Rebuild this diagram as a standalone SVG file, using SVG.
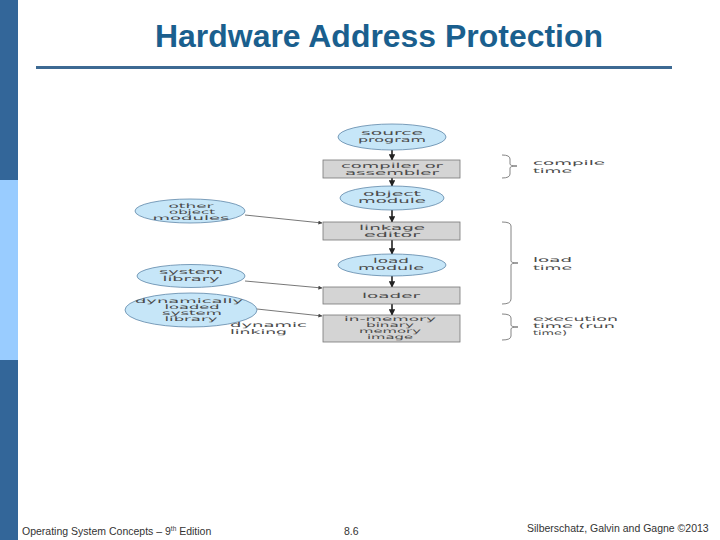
<svg xmlns="http://www.w3.org/2000/svg" width="720" height="540" viewBox="0 0 720 540">
<style>
.t{font-family:"DejaVu Sans",sans-serif;font-size:7px;fill:#4a4a4a;text-anchor:middle}
.q{font-size:6.3px}
.s{font-family:"DejaVu Sans",sans-serif;font-size:6.5px;fill:#4a4a4a}
.ell{fill:#c6e6f8;stroke:#5e86a8;stroke-width:0.8}
.box{fill:#d4d4d4;stroke:#777;stroke-width:0.8}
.arr{stroke:#222;stroke-width:1.6;fill:none;marker-end:url(#ah)}
.arl{stroke:#555;stroke-width:0.8;fill:none;marker-end:url(#ahs)}
.br{stroke:#777;stroke-width:0.9;fill:none}
.f{font-family:"Liberation Sans",Arial,sans-serif;font-size:10.5px;fill:#333}
</style>
<defs>
<marker id="ah" viewBox="0 0 10 10" refX="9" refY="5" markerWidth="4" markerHeight="4" orient="auto" markerUnits="strokeWidth"><path d="M0,0 L10,5 L0,10 z" fill="#222"/></marker>
<marker id="ahs" viewBox="0 0 10 10" refX="9" refY="5" markerWidth="6" markerHeight="5" orient="auto" markerUnits="strokeWidth"><path d="M0,0 L10,5 L0,10 z" fill="#444"/></marker>
</defs>
<rect x="0" y="0" width="720" height="540" fill="#fff"/>
<g id="sidebar">
<rect x="0" y="0" width="18" height="180" fill="#336699"/>
<rect x="0" y="180" width="18" height="180" fill="#99ccff"/>
<rect x="0" y="360" width="18" height="180" fill="#336699"/>
</g>
<g id="title">
<text x="379" y="47" font-family="Liberation Sans, Arial, sans-serif" font-size="31" font-weight="bold" fill="#1a5f8e" text-anchor="middle" textLength="448" lengthAdjust="spacingAndGlyphs">Hardware Address Protection</text>
<rect x="36" y="66" width="636" height="3" fill="#3d6a93"/>
</g>
<g id="connectors">
<path class="arr" d="M392,150 V160"/>
<path class="arr" d="M392,178 V186"/>
<path class="arr" d="M392,210 V222"/>
<path class="arr" d="M392,240 V254"/>
<path class="arr" d="M392,276 V287"/>
<path class="arr" d="M392,304 V315"/>
<path class="arl" d="M245,215 L322,223"/>
<path class="arl" d="M245,281 L322,288"/>
<path class="arl" d="M257,309 L322,316"/>
</g>
<g id="source-program"><ellipse class="ell" cx="392" cy="137" rx="54" ry="13"/>
<text class="t" x="392" y="135" textLength="62" lengthAdjust="spacingAndGlyphs">source</text>
<text class="t" x="392" y="142" textLength="68" lengthAdjust="spacingAndGlyphs">program</text></g>
<g id="compiler"><rect class="box" x="323" y="160" width="137" height="18"/>
<text class="t" x="392" y="168" textLength="102" lengthAdjust="spacingAndGlyphs">compiler or</text>
<text class="t" x="392" y="175" textLength="94" lengthAdjust="spacingAndGlyphs">assembler</text></g>
<g id="object-module"><ellipse class="ell" cx="392" cy="198" rx="52" ry="12"/>
<text class="t" x="392" y="196" textLength="58" lengthAdjust="spacingAndGlyphs">object</text>
<text class="t" x="392" y="203" textLength="68" lengthAdjust="spacingAndGlyphs">module</text></g>
<g id="linkage-editor"><rect class="box" x="323" y="222" width="137" height="18"/>
<text class="t" x="392" y="230" textLength="66" lengthAdjust="spacingAndGlyphs">linkage</text>
<text class="t" x="392" y="237" textLength="56" lengthAdjust="spacingAndGlyphs">editor</text></g>
<g id="load-module"><ellipse class="ell" cx="392" cy="265" rx="54" ry="11"/>
<text class="t" x="391" y="263" textLength="36" lengthAdjust="spacingAndGlyphs">load</text>
<text class="t" x="391" y="270" textLength="66" lengthAdjust="spacingAndGlyphs">module</text></g>
<g id="loader"><rect class="box" x="323" y="287" width="137" height="17"/>
<text class="t" x="391" y="298" textLength="58" lengthAdjust="spacingAndGlyphs">loader</text></g>
<g id="in-memory"><rect class="box" x="323" y="315" width="137" height="27"/>
<text class="t q" x="390" y="321" textLength="92" lengthAdjust="spacingAndGlyphs">in-memory</text>
<text class="t q" x="390" y="327" textLength="48" lengthAdjust="spacingAndGlyphs">binary</text>
<text class="t q" x="390" y="333" textLength="62" lengthAdjust="spacingAndGlyphs">memory</text>
<text class="t q" x="390" y="339" textLength="46" lengthAdjust="spacingAndGlyphs">image</text></g>
<g id="other-object-modules"><ellipse class="ell" cx="190" cy="211" rx="55" ry="12"/>
<text class="t q" x="191" y="208" textLength="45" lengthAdjust="spacingAndGlyphs">other</text>
<text class="t q" x="192" y="214" textLength="46" lengthAdjust="spacingAndGlyphs">object</text>
<text class="t q" x="191" y="220" textLength="77" lengthAdjust="spacingAndGlyphs">modules</text></g>
<g id="system-library"><ellipse class="ell" cx="191" cy="276" rx="54" ry="11.5"/>
<text class="t" x="191" y="274" textLength="64" lengthAdjust="spacingAndGlyphs">system</text>
<text class="t" x="191" y="281" textLength="57" lengthAdjust="spacingAndGlyphs">library</text></g>
<g id="dynamically-loaded-system-library"><ellipse class="ell" cx="191" cy="310" rx="66" ry="17"/>
<text class="t q" x="189" y="303" textLength="108" lengthAdjust="spacingAndGlyphs">dynamically</text>
<text class="t q" x="192" y="309" textLength="55" lengthAdjust="spacingAndGlyphs">loaded</text>
<text class="t q" x="192" y="315" textLength="60" lengthAdjust="spacingAndGlyphs">system</text>
<text class="t q" x="191" y="321" textLength="53" lengthAdjust="spacingAndGlyphs">library</text></g>
<g id="dynamic-linking">
<text class="s" x="230" y="327" textLength="77" lengthAdjust="spacingAndGlyphs">dynamic</text>
<text class="s" x="230" y="334" textLength="57" lengthAdjust="spacingAndGlyphs">linking</text></g>
<g id="compile-time">
<path class="br" d="M502,155 Q510,155 510,159 L510,164 Q510,166 517,166 Q510,166 510,168 L510,174 Q510,178 502,178"/>
<text class="s" x="533" y="165" textLength="72" lengthAdjust="spacingAndGlyphs">compile</text>
<text class="s" x="533" y="172.5" textLength="39" lengthAdjust="spacingAndGlyphs">time</text></g>
<g id="load-time">
<path class="br" d="M502,222 Q511,222 511,226 L511,261 Q511,263 518,263 Q511,263 511,265 L511,299 Q511,304 502,304"/>
<text class="s" x="533" y="262" textLength="39" lengthAdjust="spacingAndGlyphs">load</text>
<text class="s" x="533" y="269.5" textLength="39" lengthAdjust="spacingAndGlyphs">time</text></g>
<g id="execution-time">
<path class="br" d="M502,314 Q511,314 511,318 L511,325 Q511,327 518,327 Q511,327 511,329 L511,336 Q511,340 502,340"/>
<text class="s" x="533" y="321" textLength="85" lengthAdjust="spacingAndGlyphs">execution</text>
<text class="s" x="533" y="328" textLength="82" lengthAdjust="spacingAndGlyphs">time (run</text>
<text class="s" x="533" y="335" textLength="34" lengthAdjust="spacingAndGlyphs">time)</text></g>
<g id="footer">
<text class="f" x="22" y="535">Operating System Concepts – 9<tspan font-size="6.5" dy="-4">th</tspan><tspan dy="4"> Edition</tspan></text>
<text class="f" x="344" y="535">8.6</text>
<text class="f" x="527" y="532">Silberschatz, Galvin and Gagne ©2013</text>
</g>
</svg>
